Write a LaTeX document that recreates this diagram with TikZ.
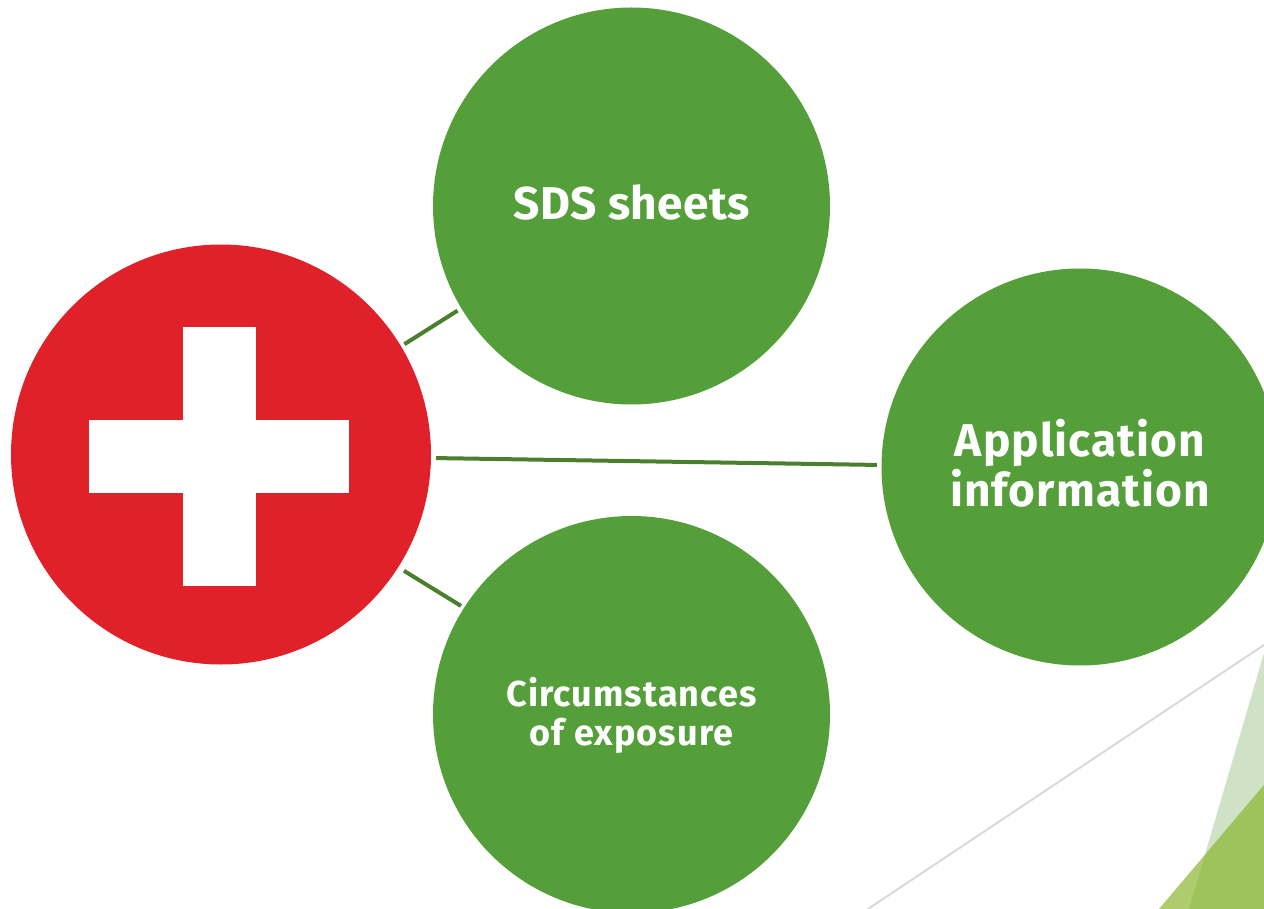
\documentclass[tikz,border=0pt]{standalone}
\usepackage{fontspec}
\setmainfont{Fira Sans}
\definecolor{disc}{HTML}{559F3B}
\definecolor{medic}{HTML}{E0212A}
\definecolor{link}{HTML}{4A7F2E}
\definecolor{rule}{HTML}{D9D9D9}
\definecolor{pale}{HTML}{CFE2C6}
\definecolor{olive}{HTML}{9FC35B}
\definecolor{oliveb}{HTML}{AECC6E}
\tikzset{
  bubble/.style={circle,fill=disc,minimum size=397pt,inner sep=0pt},
  sdstext/.style={text=white,align=center,font=\fontsize{46}{50}\selectfont\bfseries\addfontfeature{LetterSpace=0.9,Ligatures=NoCommon}},
  bigtext/.style={text=white,align=center,font=\fontsize{46}{50}\selectfont\bfseries\addfontfeature{LetterSpace=2.3,Ligatures=NoCommon}},
  smalltext/.style={text=white,align=center,font=\fontsize{36}{39}\selectfont\bfseries\addfontfeature{LetterSpace=3,Ligatures=NoCommon}},
  linker/.style={draw=link,line width=4pt}
}
\begin{document}
\begin{tikzpicture}[x=1pt,y=-1pt]
\useasboundingbox (0,0) rectangle (1264,909);
\clip (0,0) rectangle (1264,909);
% decorative corner
\fill[pale] (1264,653) -- (1189,909) -- (1264,909) -- cycle;
\fill[oliveb] (1159,909) -- (1264,785) -- (1264,909) -- cycle;
\fill[olive] (1205,855) -- (1264,785) -- (1264,909) -- (1189,909) -- cycle;
\draw[rule,line width=2pt] (868,909) -- (1264,645);
% discs
\node[circle,fill=medic,minimum size=420pt,inner sep=0pt] (red) at (221,454.5) {};
\fill[white] (183,327) rectangle (256,586);
\fill[white] (89,420) rectangle (349,493);
\node[bubble] (sds) at (631.5,206) {};
\node[bubble] (app) at (1080,467) {};
\node[bubble] (circ) at (631.5,714.5) {};
\node[sdstext] (sdst) at (631.5,202) {SDS sheets};
\node[bigtext] (appt) at (1080,463.5) {Application\\information};
\node[smalltext] (circt) at (631.5,715) {Circumstances\\of exposure};
% connectors
\draw[linker,shorten <=3.8pt,shorten >=4.3pt] (red.31.1) -- (sds.211.2);
\draw[linker,shorten <=5pt,shorten >=4.5pt] ([yshift=-3.5pt]red.east) -- ([yshift=2pt]app.west);
\draw[linker,shorten <=5.5pt,shorten >=4.5pt] ([yshift=-2pt]red.-32.4) -- ([yshift=-2pt]circ.147.7);
\end{tikzpicture}
\end{document}
